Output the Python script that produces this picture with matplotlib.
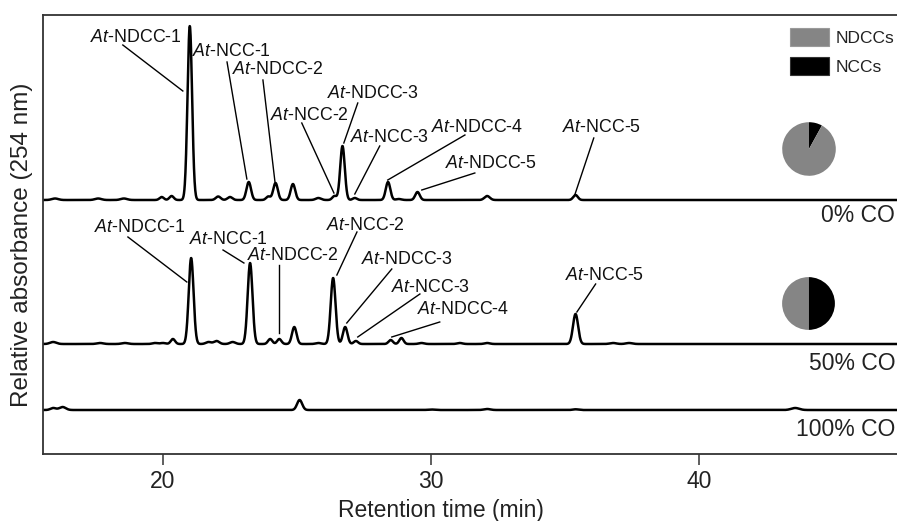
import numpy as np
import matplotlib
matplotlib.use("Agg")
import matplotlib.pyplot as plt
from matplotlib.patches import Patch

plt.rcParams['font.family'] = ['Liberation Sans', 'DejaVu Sans']
plt.rcParams['mathtext.fontset'] = 'custom'
plt.rcParams['mathtext.it'] = 'Liberation Sans:italic'
plt.rcParams['mathtext.rm'] = 'Liberation Sans'

# ---------------- data ----------------
conditions = ["0% CO", "50% CO", "100% CO"]
baselines = [254, 110, 44]          # relative absorbance offsets of each trace

# peak tables: retention time (min), height (rel. units), width sigma (min)
peaks_0_t = [15.97, 17.58, 18.54, 19.95, 20.32, 21.00, 22.06, 22.50, 23.20, 23.93,
             24.20, 24.85, 25.80, 26.40, 26.70, 27.16, 28.40, 28.80, 29.50, 32.10, 35.40]
peaks_0_h = [1.5, 1.5, 1.5, 3, 4, 174, 3.5, 3, 18, 3.5,
             17, 16, 2, 4, 54, 2, 18, 1, 8, 4, 5]
peaks_0_w = [0.12, 0.12, 0.12, 0.08, 0.08, 0.085, 0.09, 0.09, 0.085, 0.08,
             0.085, 0.085, 0.1, 0.08, 0.085, 0.08, 0.085, 0.1, 0.085, 0.1, 0.085]

peaks_50_t = [15.90, 17.65, 18.58, 19.70, 20.00, 20.37, 21.05, 21.70, 22.00, 22.60,
              23.25, 24.00, 24.34, 24.90, 25.80, 26.35, 26.80, 27.20, 28.50, 28.90,
              29.65, 31.08, 32.10, 35.40, 36.80, 37.40]
peaks_50_h = [2, 1, 1, 1, 1, 5, 86, 2, 3, 2,
              81, 5, 5, 17, 1, 66, 17, 3, 4, 6,
              1, 1, 1, 30, 1, 1]
peaks_50_w = [0.12, 0.12, 0.12, 0.1, 0.1, 0.08, 0.09, 0.1, 0.1, 0.1,
              0.09, 0.08, 0.08, 0.085, 0.1, 0.09, 0.085, 0.08, 0.08, 0.08,
              0.1, 0.1, 0.1, 0.095, 0.12, 0.12]

peaks_100_t = [15.90, 16.25, 25.10, 30.00, 32.10, 35.40, 43.60]
peaks_100_h = [2, 3, 10, 0.5, 1, 0.7, 2]
peaks_100_w = [0.1, 0.12, 0.095, 0.12, 0.12, 0.1, 0.15]

# pie fractions [NCCs, NDCCs]
pie_0 = [8, 92]
pie_50 = [50, 50]
pie_labels = ["NCCs", "NDCCs"]

# annotated peaks: label, retention time
ann_0_labels = ["NDCC-1", "NCC-1", "NDCC-2", "NCC-2", "NDCC-3", "NCC-3", "NDCC-4", "NDCC-5", "NCC-5"]
ann_0_t = [21.00, 23.20, 24.20, 26.40, 26.70, 27.16, 28.40, 29.50, 35.40]
ann_50_labels = ["NDCC-1", "NCC-1", "NDCC-2", "NCC-2", "NDCC-3", "NCC-3", "NDCC-4", "NCC-5"]
ann_50_t = [21.05, 23.25, 24.34, 26.35, 26.80, 27.20, 28.50, 35.40]

# ---------------- layout ----------------
W, H = 897, 521
fig = plt.figure(figsize=(W / 100, H / 100), dpi=100)
ax_l, ax_r, ax_t, ax_b = 43, 897, 15, 454
ax = fig.add_axes([ax_l / W, 1 - ax_b / H, (ax_r - ax_l) / W, (ax_b - ax_t) / H])
xmin, xmax = 15.52, 47.4
ax.set_xlim(xmin, xmax)
ax.set_ylim(0, 439)

t = np.linspace(xmin, xmax, 4000)

def trace(base, pt, ph, pw):
    y = np.full_like(t, float(base))
    for c, h, s in zip(pt, ph, pw):
        y += h * np.exp(-0.5 * ((t - c) / s) ** 2)
    return y

tables = [(peaks_0_t, peaks_0_h, peaks_0_w),
          (peaks_50_t, peaks_50_h, peaks_50_w),
          (peaks_100_t, peaks_100_h, peaks_100_w)]
for base, (pt, ph, pw) in zip(baselines, tables):
    ax.plot(t, trace(base, pt, ph, pw), color='black', lw=1.8, solid_joinstyle='round')

# condition labels at right
label_y = [238, 90, 25]
for name, yy in zip(conditions, label_y):
    ax.text(0.998, yy, name, transform=ax.get_yaxis_transform(), ha='right', va='center',
            fontsize=16.5, color='#222222')

# annotations: (text x, text y, line start x, line start y, line end dx, line end y)
lay_0 = [(18.97, 417, 18.50, 409, -0.26, 363),
         (22.54, 403, 22.39, 392, -0.07, 275),
         (24.29, 385, 23.73, 374, -0.02, 272),
         (25.48, 338, 25.18, 331, -0.02, 261),
         (27.85, 360, 27.27, 351, 0.05, 311),
         (28.45, 317, 28.09, 308, 0.00, 260),
         (31.73, 326, 31.27, 319, -0.01, 274),
         (32.24, 290, 31.64, 281, 0.16, 264),
         (36.38, 326, 36.08, 316, -0.03, 259)]
lay_50 = [(19.14, 226, 18.69, 217, -0.16, 172),
          (22.46, 214, 22.24, 204, -0.23, 191),
          (24.85, 199, 24.33, 189, -0.01, 121),
          (27.55, 229, 27.24, 222, 0.14, 179),
          (29.10, 195, 28.54, 185, 0.06, 131),
          (29.98, 167, 29.59, 160, 0.07, 117),
          (31.21, 144, 30.33, 132, 0.04, 117),
          (36.49, 179, 36.15, 170, 0.05, 142)]
for labels, times, lay in [(ann_0_labels, ann_0_t, lay_0), (ann_50_labels, ann_50_t, lay_50)]:
    for lab, pt, (tx, ty, sx, sy, dx, ey) in zip(labels, times, lay):
        ax.text(tx, ty, r'$\mathit{At}$-' + lab, ha='center', va='center', fontsize=12.8,
                color='#111111')
        ax.plot([sx, pt + dx], [sy, ey], color='black', lw=1.0)

# axes styling
for s in ['right']:
    ax.spines[s].set_visible(False)
for s in ['left', 'bottom', 'top']:
    ax.spines[s].set_color('#333333')
    ax.spines[s].set_linewidth(1.3)
ax.set_yticks([])
ax.set_xticks([20, 30, 40])
ax.tick_params(axis='x', direction='out', length=8, width=1.1, color='#333333', pad=3.5,
               labelsize=16.5, labelcolor='#222222')
ax.set_xlabel("Retention time (min)", fontsize=16.5, color='#222222')
ax.xaxis.set_label_coords((440.5 - ax_l) / (ax_r - ax_l), (ax_b - 510) / (ax_b - ax_t))
ax.xaxis.label.set_verticalalignment('center')
ax.set_ylabel("Relative absorbance (254 nm)", fontsize=17.5, color='#222222')
ax.yaxis.set_label_coords((22 - ax_l) / (ax_r - ax_l), (ax_b - 245) / (ax_b - ax_t))
ax.yaxis.label.set_verticalalignment('center')

# pies
gray = '#858585'
pie_colors = ['black', gray]
for frac, (cx, cy, r) in [(pie_0, (809, 149, 33.5)), (pie_50, (808.5, 303.5, 33))]:
    pax = fig.add_axes([(cx - r) / W, 1 - (cy + r) / H, 2 * r / W, 2 * r / H])
    pax.pie(frac, colors=pie_colors, startangle=90, counterclock=False,
            wedgeprops=dict(linewidth=0))
    pax.set_aspect('equal')
    pax.axis('off')

# legend
fs_leg = 12.5
px = fs_leg * 100 / 72
handles = [Patch(facecolor=gray, edgecolor='#9a9a9a', lw=0.8, label='NDCCs'),
           Patch(facecolor='black', edgecolor='#333333', lw=0.8, label='NCCs')]
leg = fig.legend(handles=handles, loc='upper left', bbox_to_anchor=(790 / W, 1 - 28 / H),
                 frameon=False, fontsize=fs_leg, borderpad=0, borderaxespad=0,
                 handlelength=39 / px, handleheight=21 / px, labelspacing=11 / px,
                 handletextpad=7 / px)
for txt in leg.get_texts():
    txt.set_color('#222222')

fig.savefig("out.png", dpi=100)
